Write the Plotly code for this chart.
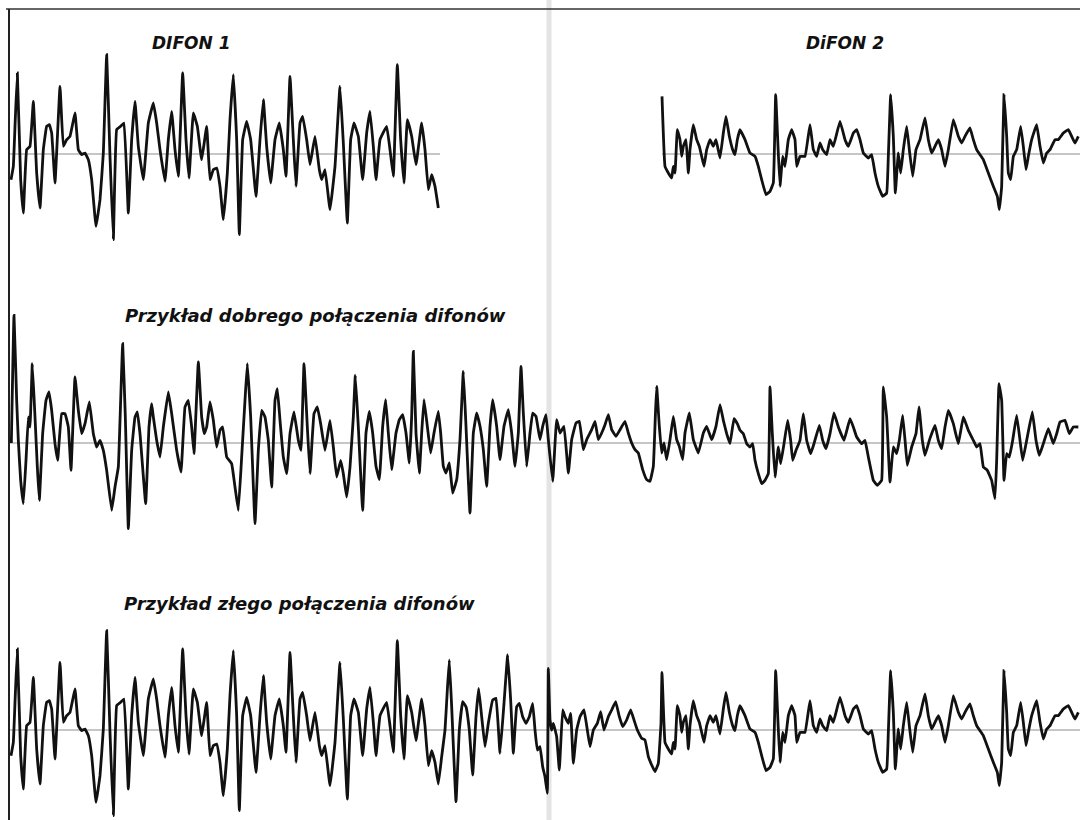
import plotly.graph_objects as go

# ---- DIFON 1 waveform (time units, amplitude units) ----
difon1_t = [33, 40, 45, 52, 62, 70, 80, 90, 100, 110, 120, 130, 140, 148, 155, 165, 180, 190, 200, 210,
            225, 235, 245, 255, 265, 275, 288, 300, 310, 320, 330, 340, 350, 362, 372, 385, 395, 405, 415, 430,
            445, 460, 470, 480, 495, 505, 515, 525, 535, 548, 558, 567, 580, 592, 605, 620, 630, 640, 650, 660,
            670, 682, 690, 700, 710, 718, 728, 740, 752, 768, 780, 790, 800, 812, 825, 838, 850, 858, 870, 880,
            888, 900, 908, 920, 930, 945, 958, 965, 975, 990, 1005, 1020, 1030, 1042, 1052, 1062, 1075, 1088, 1100, 1110,
            1120, 1128, 1140, 1160, 1170, 1180, 1192, 1202, 1212, 1222, 1235, 1248, 1265, 1275, 1285, 1295, 1305, 1315,
            1325, 1335, 1342, 1348, 1355, 1368, 1378, 1388, 1398, 1408, 1418, 1428, 1436, 1445, 1455, 1465, 1478, 1488,
            1500, 1512, 1523, 1532, 1540, 1550, 1558, 1568, 1578, 1588, 1598, 1605, 1612, 1620, 1628, 1635, 1642]
difon1_a = [-77, -37, 83, 243, -77, -177, 13, 23, 158, -57, -162, 13, 83, 88, 63, -87, 203, 23, 43, 53,
            123, 13, -2, 3, -17, -77, -217, -137, 3, 298, -7, -257, 73, 83, 93, -177, 43, 158, 23, -77,
            93, 153, 93, 13, -82, 43, 128, 13, -67, 243, 43, -72, 123, 83, -17, 83, -77, -47, -42, -97,
            -197, -57, 103, 238, 43, -242, 43, 98, 43, -127, 43, 163, 23, -87, 43, 93, 13, -67, 233, 43,
            -97, 93, 113, 43, -32, 53, -47, -77, -47, -167, -37, 203, 33, -207, 43, 93, 53, -77, 63, 128,
            23, -77, 43, 83, 13, -67, 268, 43, -87, 103, 53, -32, 93, 13, -107, -62, -97, -162,
            -80, 0, 120, 210, 70, -215, 0, 85, 70, 0, -135, 40, 125, 40, -50, 20, 90, 95,
            -70, 80, 225, 90, -70, 70, 80, 40, 20, 40, 80, 0, -60, -50, -110, -140, -190]

# ---- DIFON 2 waveform ----
difon2_t = [1645, 1650, 1655, 1660, 1670, 1678, 1688, 1695, 1705, 1712, 1720, 1730, 1740, 1752, 1762, 1770, 1780, 1792, 1802, 1812,
            1825, 1835, 1847, 1858, 1868, 1880, 1892, 1902, 1912, 1925, 1935, 1945, 1955, 1965, 1975, 1983,
            1986, 1995, 2005, 2015, 2020, 2025, 2032, 2040, 2045, 2050, 2058, 2065, 2070, 2080, 2090, 2098, 2105, 2112, 2120, 2130,
            2140, 2148, 2160, 2170, 2178, 2188, 2198, 2205, 2212, 2220, 2235, 2250, 2265, 2275, 2285, 2298, 2310, 2320, 2327, 2334,
            2340, 2348, 2355, 2365, 2375, 2385, 2390, 2400, 2415, 2430, 2440, 2450, 2460, 2468, 2480, 2490, 2500, 2520, 2535, 2545,
            2560, 2570, 2580, 2590, 2605, 2615, 2625, 2635, 2648, 2660, 2665, 2672, 2680, 2686, 2695, 2702, 2710, 2720, 2728, 2738,
            2748, 2760, 2775, 2785, 2795, 2805, 2815, 2825, 2835, 2845, 2860, 2875, 2885, 2895, 2910, 2920, 2930, 2940, 2950, 2965,
            2980, 2992, 2998, 3005, 3012, 3020, 3025, 3032, 3040, 3050, 3062, 3070, 3078, 3085, 3095, 3110, 3120, 3130, 3140, 3150,
            3165, 3175, 3190, 3205, 3215, 3225, 3235]
difon2_a = [185, 30, 0, 20, -20, -120, 60, 40, 20, 50, -100, 0, 40, 60, 0, -50, 0, 20, 55, 0,
            40, 60, 85, 40, 10, 30, 60, 30, 0, -25, -30, -80, -105, -125, -100, 20,
            173, -37, -57, -72, -37, -57, 73, 43, -7, 23, 43, -57, 13, 88, 43, 23, -7, -37, 13, 43,
            23, 43, -12, 63, 113, 53, 13, -2, 43, 73, 43, 3, -7, -37, -77, -122, -112, -87, 178, 23,
            -97, -7, -37, 43, 73, 43, -37, -7, -7, 88, 13, -7, 33, 13, -2, 43, 23, 98, 43, 23,
            63, 73, 43, 3, -12, -2, -57, -97, -127, -117, -7, 178, 53, -117, 3, -57, 13, 83, 13, -67,
            13, 43, 108, 43, 3, 23, 43, 13, -37, 13, 103, 53, 33, 53, 78, 43, 13, -2, -17, -57,
            -97, -127, -167, -97, 178, 53, -57, -77, -7, 13, 83, 23, -47, -7, 43, 88, 23, -27, 3, 13,
            43, 43, 63, 73, 53, 33, 53]

# ---- good concatenation ----
good_t = [34, 42, 50, 55, 62, 70, 78, 85, 90, 97, 105, 112, 118, 128, 138, 147, 155, 165, 173, 185,
          195, 205, 213, 225, 235, 245, 255, 268, 280, 290, 300, 310, 320, 335, 345, 355, 362, 368, 376, 385,
          395, 405, 412, 420, 437, 447, 455, 460, 470, 480, 490, 505, 515, 530, 543, 555, 565, 575, 582, 595,
          605, 613, 620, 630, 640, 650, 660, 668, 680, 695, 705, 715, 725, 735, 742, 752, 765, 775, 785, 795,
          805, 815, 825, 832, 840, 850, 860, 870, 882, 895, 903, 912, 922, 930, 942, 952, 962, 975, 990, 1000,
          1010, 1022, 1030, 1040, 1050, 1060, 1066, 1075, 1088,
          1098, 1108, 1118, 1128, 1138, 1148, 1157, 1165, 1175, 1188, 1198, 1208, 1218, 1228, 1235, 1240, 1248, 1258, 1265, 1272,
          1282, 1292, 1302, 1315, 1322, 1330, 1338, 1348, 1358, 1370, 1380, 1390, 1398, 1410, 1420, 1430, 1440, 1450, 1460, 1470,
          1478, 1490, 1500, 1512, 1525, 1535, 1545, 1555, 1563, 1570, 1580, 1590, 1598, 1608, 1620, 1628, 1638, 1645, 1658, 1670,
          1680, 1692, 1705, 1715, 1728, 1738, 1750, 1760, 1775, 1785, 1795, 1805, 1815, 1825, 1835, 1848, 1860, 1875, 1885, 1895,
          1905, 1915, 1928, 1940, 1950, 1960, 1966, 1970, 1978, 1985, 1992, 2000, 2010, 2020, 2030, 2038, 2048, 2055, 2068, 2080,
          2095, 2110, 2120, 2135, 2148, 2160,
          2170, 2180, 2190, 2202, 2212, 2220, 2230, 2240, 2250, 2258, 2265, 2275, 2285, 2295, 2305, 2310, 2317, 2325, 2335, 2342,
          2352, 2363, 2372, 2378, 2388, 2400, 2410, 2420, 2432, 2442, 2458, 2468, 2478, 2490, 2502, 2515, 2532, 2550, 2560, 2570,
          2585, 2595, 2605, 2620, 2632, 2645, 2650, 2660, 2670, 2680, 2690, 2698, 2708, 2716, 2722, 2735, 2748, 2757, 2767, 2775,
          2788, 2805, 2815, 2825, 2835, 2845, 2860, 2875, 2890, 2905, 2920, 2930, 2940, 2950, 2962, 2975, 2985, 2990, 2997, 3005,
          3012, 3020, 3028, 3038, 3050, 3060, 3068, 3080, 3097, 3108, 3118, 3130, 3145, 3160, 3170, 3180, 3195, 3208, 3220, 3235]
good_a = [0, 383, 128, 8, -112, -182, -52, 78, 48, 238, 78, -72, -172, 28, 128, 153, 98, -2, -52, 88,
          88, 48, -82, 198, 98, 28, 58, 123, 28, -12, 8, -22, -82, -202, -132, -72, 128, 298, 78, -257,
          -22, 78, 93, 28, -182, 48, 118, 78, 8, -42, 48, 153, 88, -22, -87, 108, 128, 48, -32, 243,
          78, 28, 48, 123, 68, -12, 38, 48, -42, -62, -132, -202, -42, 128, 238, 78, -242, -22, 98, 78,
          8, -132, 128, 163, 68, -42, -92, 28, 93, 8, -22, 238, 48, -92, 88, 108, 58, -22, 68, -12,
          -102, -52, -92, -162, -72, 78, 203, 48, -202,
          30, 95, 30, -70, -110, 50, 130, 30, -80, 30, 70, 85, 30, -60, 80, 275, 30, -90, 30, 130,
          50, -30, 30, 95, 30, -70, -90, -60, -150, -110, 10, 215, 50, -210, 30, 90, 50, -20, -130, 50,
          130, 50, -50, 50, 100, 30, -70, 30, 230, 90, -70, 30, 90, 80, 10, 50, 85, 10, -115, 70,
          30, 50, -90, 10, 60, 65, -20, 10, 40, 65, 10, 30, 55, 85, 40, 20, 40, 65, 30, 0,
          -20, -30, -80, -110, -115, -70, 80, 170, 50, -30, 0, -50, 10, 80, 10, -10, -50, 30, 90, 10,
          -30, 30, 50, 10, 50, 115,
          68, 28, -2, 73, 58, 38, 28, -2, -12, -2, -52, -92, -122, -112, -92, 168, 28, -102, -12, -62,
          -2, 68, 8, -52, -22, 8, 88, 8, -32, -2, 53, 8, -17, 28, 90, 48, 8, 73, 48, 18,
          -2, 8, -42, -112, -127, -112, 168, 78, -117, -12, -32, 8, 83, -2, -67, -12, 28, 108, 8, -37,
          8, 53, 8, -17, 48, 98, 58, -2, 78, 38, 8, -12, -2, -72, -82, -112, -167, -52, 178, 128,
          -112, -32, -42, 8, 83, 8, -52, 8, 93, 8, -37, -2, 43, -2, 28, 63, 68, 28, 48, 48]

labels = ["DIFON 1", "DiFON 2", "Przykład dobrego połączenia difonów", "Przykład złego połączenia difonów"]

# selections for each row
d1_top = [(t, a) for t, a in zip(difon1_t, difon1_a) if t <= 1315]
d2_top = [(t, a) for t, a in zip(difon2_t, difon2_a) if t >= 1986]
bad = list(zip(difon1_t, difon1_a)) + list(zip(difon2_t, difon2_a))

W, H = 1080, 820
LINE = dict(color="#111111", width=2.8, shape="spline", smoothing=0.25)

fig = go.Figure()
fig.add_trace(go.Scatter(x=[p[0] for p in d1_top], y=[p[1] for p in d1_top], mode="lines",
                         line=LINE, xaxis="x", yaxis="y", hoverinfo="skip"))
fig.add_trace(go.Scatter(x=[p[0] for p in d2_top], y=[p[1] for p in d2_top], mode="lines",
                         line=LINE, xaxis="x", yaxis="y", hoverinfo="skip"))
fig.add_trace(go.Scatter(x=good_t, y=good_a, mode="lines", line=LINE, xaxis="x", yaxis="y2", hoverinfo="skip"))
fig.add_trace(go.Scatter(x=[p[0] for p in bad], y=[p[1] for p in bad], mode="lines",
                         line=LINE, xaxis="x", yaxis="y3", hoverinfo="skip"))

def pfx(px):
    return px / W

def pfy(py):
    return 1 - py / H

shapes = []
# page fold (light vertical band)
shapes.append(dict(type="line", xref="paper", yref="paper", x0=pfx(549), x1=pfx(549), y0=0, y1=1,
                   line=dict(color="#e4e4e4", width=5), layer="below"))
# gray baselines
base = dict(color="#c6c6c6", width=2)
shapes.append(dict(type="line", xref="x", yref="y", x0=30, x1=1320, y0=0, y1=0, line=base, layer="below"))
shapes.append(dict(type="line", xref="x", yref="y", x0=1986, x1=3240, y0=0, y1=0, line=base, layer="below"))
shapes.append(dict(type="line", xref="x", yref="y2", x0=30, x1=3240, y0=0, y1=0, line=base, layer="below"))
shapes.append(dict(type="line", xref="x", yref="y3", x0=30, x1=3240, y0=0, y1=0, line=base, layer="below"))
# frame
shapes.append(dict(type="line", xref="paper", yref="paper", x0=pfx(6), x1=1, y0=pfy(9), y1=pfy(9),
                   line=dict(color="#333", width=1.5)))
shapes.append(dict(type="line", xref="paper", yref="paper", x0=pfx(9), x1=pfx(9), y0=0, y1=pfy(9),
                   line=dict(color="#222", width=2)))

ann = []
for txt, cx, cy, sz in [(labels[0], 191, 43, 17), (labels[1], 845, 43, 17),
                        (labels[2], 315, 315, 18), (labels[3], 299, 603, 18)]:
    ann.append(dict(text="<b><i>" + txt + "</i></b>", x=pfx(cx), y=pfy(cy), xref="paper", yref="paper",
                    xanchor="center", yanchor="middle", showarrow=False,
                    font=dict(family="DejaVu Sans", size=sz, color="#111111")))

ax_hidden = dict(visible=False, showgrid=False, zeroline=False)
fig.update_layout(
    width=W, height=H, margin=dict(l=0, r=0, t=0, b=0),
    paper_bgcolor="white", plot_bgcolor="rgba(0,0,0,0)", showlegend=False,
    xaxis=dict(range=[0, 3240], domain=[0, 1], **ax_hidden),
    yaxis=dict(range=[-462, 462], domain=[1 - 308 / H, 1], anchor="x", **ax_hidden),
    yaxis2=dict(range=[-405, 405], domain=[1 - 578 / H, 1 - 308 / H], anchor="x", **ax_hidden),
    yaxis3=dict(range=[-270, 456], domain=[0, 1 - 578 / H], anchor="x", **ax_hidden),
    shapes=shapes, annotations=ann,
)
fig.write_html("out.html", config={"displayModeBar": False},
               post_script="document.body.style.margin='0px';document.body.style.overflow='hidden';")
